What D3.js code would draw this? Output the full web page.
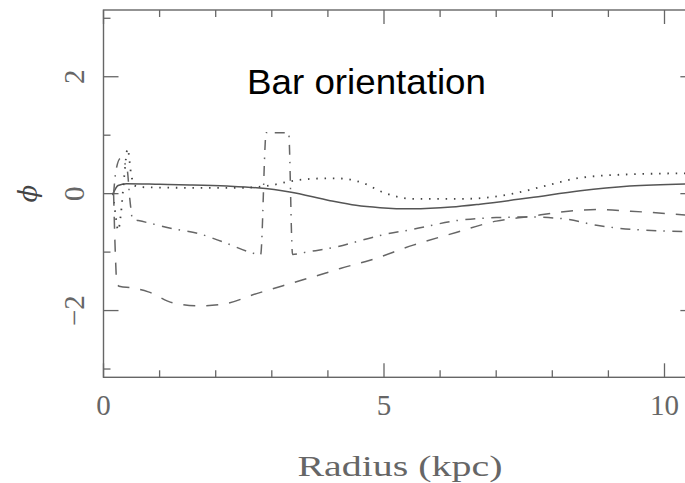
<!DOCTYPE html>
<html>
<head>
<meta charset="utf-8">
<script src="https://cdn.jsdelivr.net/npm/d3@7"></script>
<style>
  body { margin: 0; background: #fff; }
  svg { display: block; }
</style>
</head>
<body>
<div id="chart"></div>
<script>
// values: [radius (kpc), phi (rad)]
const solidSeries = [[0.17,0],[0.26,0.14],[0.41,0.17],[1.0,0.16],[1.54,0.15],[2.2,0.13],[2.73,0.1],[3.32,0.03],
  [4.04,-0.12],[4.5,-0.2],[4.93,-0.24],[5.5,-0.26],[6.2,-0.23],[6.71,-0.18],[7.6,-0.07],[8.5,0.05],[9.38,0.13],[10.55,0.17]];
const dottedSeries = [[0.17,0],[0.22,-0.4],[0.26,-0.63],[0.31,-0.35],[0.37,0.3],[0.43,0.77],[0.49,0.35],[0.55,0.14],
  [0.7,0.11],[1.5,0.1],[2.43,0.1],[2.9,0.13],[3.45,0.23],[3.9,0.26],[4.2,0.26],[4.63,0.18],[4.99,0.02],[5.52,-0.09],
  [6.41,-0.09],[7.3,0.0],[7.9,0.14],[8.49,0.27],[9.38,0.33],[10.55,0.35]];
const dashedSeries = [[0.18,0],[0.21,-1.0],[0.24,-1.55],[0.3,-1.59],[0.5,-1.61],[0.8,-1.68],[1.24,-1.87],[1.72,-1.92],
  [2.14,-1.89],[2.73,-1.71],[3.32,-1.54],[3.92,-1.37],[4.22,-1.28],[4.75,-1.14],[5.52,-0.88],[6.3,-0.66],[7.0,-0.47],
  [7.6,-0.39],[8.2,-0.31],[8.8,-0.27],[9.4,-0.3],[10.55,-0.38]];
const dashDotSeries = [[0.18,0],[0.22,0.38],[0.3,0.6],[0.42,0.42],[0.47,-0.1],[0.52,-0.44],[0.62,-0.46],[1.24,-0.6],
  [1.72,-0.69],[2.14,-0.83],[2.67,-1.02],[2.8,-1.05],[2.9,1.04],[3.3,1.04],[3.37,-1.04],[3.62,-1.0],[4.16,-0.91],
  [4.63,-0.79],[5.0,-0.7],[5.52,-0.61],[6.3,-0.46],[7.0,-0.41],[7.6,-0.4],[8.2,-0.43],[8.79,-0.54],[9.39,-0.61],[10.55,-0.65]];

const xTicks = [0,1,2,3,4,5,6,7,8,9,10];
const xLabels = [0,5,10];
const yTicks = [-3,-2,-1,0,1,2,3];
const yLabels = [-2,0,2];

const width = 685, height = 483;
const svg = d3.select("#chart").append("svg")
  .attr("width", width)
  .attr("height", height);

const x = d3.scaleLinear().domain([0, 10]).range([103.5, 664.5]);
const y = d3.scaleLinear().domain([-Math.PI, Math.PI]).range([377.3, 10]);
const xMax = 10.55;

const axisColor = "#666";
const plot = svg.append("g");

// frame
plot.append("rect")
  .attr("x", x(0)).attr("y", y(Math.PI))
  .attr("width", x(xMax) - x(0))
  .attr("height", y(-Math.PI) - y(Math.PI))
  .attr("fill", "none")
  .attr("stroke", axisColor)
  .attr("stroke-width", 1.4);

// ticks on all four sides, pointing inward
const tickLen = d => (d % 5 === 0 ? 14 : 7);
const yTickLen = d => (d % 2 === 0 ? 15 : 7);
const ticks = plot.append("g").attr("stroke", axisColor).attr("stroke-width", 1.3);
xTicks.forEach(d => {
  ticks.append("line").attr("x1", x(d)).attr("x2", x(d))
    .attr("y1", y(-Math.PI)).attr("y2", y(-Math.PI) - tickLen(d));
  ticks.append("line").attr("x1", x(d)).attr("x2", x(d))
    .attr("y1", y(Math.PI)).attr("y2", y(Math.PI) + tickLen(d));
});
yTicks.forEach(d => {
  ticks.append("line").attr("x1", x(0)).attr("x2", x(0) + yTickLen(d))
    .attr("y1", y(d)).attr("y2", y(d));
  ticks.append("line").attr("x1", x(xMax)).attr("x2", x(xMax) - yTickLen(d))
    .attr("y1", y(d)).attr("y2", y(d));
});

// tick labels
const labelFont = "'Liberation Serif', 'DejaVu Serif', serif";
plot.selectAll(".xlab").data(xLabels).enter().append("text")
  .attr("x", d => x(d))
  .attr("y", 415)
  .attr("text-anchor", "middle")
  .attr("fill", "#666")
  .style("font-family", labelFont)
  .style("font-size", "29px")
  .text(d => d);

plot.selectAll(".ylab").data(yLabels).enter().append("text")
  .attr("transform", d => `translate(84,${y(d)}) rotate(-90)`)
  .attr("text-anchor", "middle")
  .attr("fill", "#666")
  .style("font-family", labelFont)
  .style("font-size", "29px")
  .text(d => (d < 0 ? "\u2212" + Math.abs(d) : d));

// axis titles
svg.append("text")
  .attr("x", 400)
  .attr("y", 476)
  .attr("text-anchor", "middle")
  .attr("fill", "#666")
  .attr("textLength", 205)
  .attr("lengthAdjust", "spacingAndGlyphs")
  .style("font-family", labelFont)
  .style("font-size", "30px")
  .text("Radius (kpc)");

svg.append("text")
  .attr("transform", `translate(37,${y(0)}) rotate(-90)`)
  .attr("text-anchor", "middle")
  .attr("fill", "#444")
  .style("font-family", "'DejaVu Serif', serif")
  .style("font-style", "italic")
  .style("font-size", "26px")
  .text("\u03d5");

svg.append("text")
  .attr("x", 247)
  .attr("y", 94)
  .attr("fill", "#000")
  .attr("textLength", 239)
  .attr("lengthAdjust", "spacingAndGlyphs")
  .style("font-family", "'Liberation Sans', Arial, sans-serif")
  .style("font-size", "35px")
  .text("Bar orientation");

// curves
const line = d3.line()
  .x(d => x(d[0]))
  .y(d => y(d[1]))
  .curve(d3.curveMonotoneX);

const series = [
  { data: solidSeries, dash: null, color: "#555", w: 1.5 },
  { data: dottedSeries, dash: "1.5,6.8", color: "#444", w: 1.8 },
  { data: dashedSeries, dash: "12,11", color: "#666", w: 1.5 },
  { data: dashDotSeries, dash: "10,7,1.5,7.5", color: "#666", w: 1.5 }
];

plot.append("g").selectAll("path")
  .data(series)
  .enter().append("path")
  .attr("d", d => line(d.data))
  .attr("fill", "none")
  .attr("stroke", d => d.color)
  .attr("stroke-width", d => d.w)
  .attr("stroke-dasharray", d => d.dash);
</script>
</body>
</html>
